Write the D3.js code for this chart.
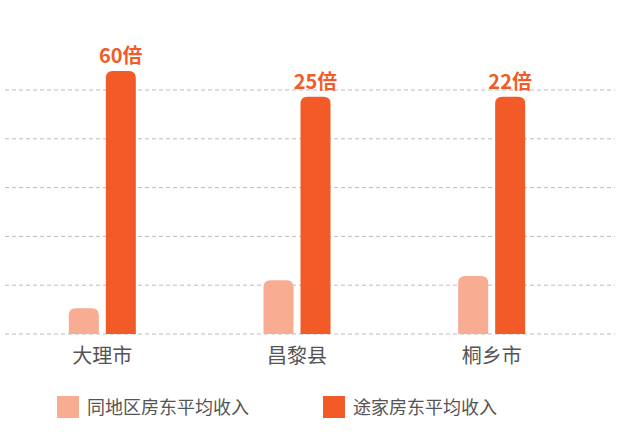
<!DOCTYPE html>
<html><head><meta charset="utf-8">
<script src="https://cdn.jsdelivr.net/npm/d3@7"></script>
<style>body{margin:0;background:#fff}text{font-family:"Noto Sans CJK SC","Noto Sans",sans-serif}</style>
</head><body><svg id="c" width="622" height="437"></svg>
<script>
const categories = ["大理市","昌黎县","桐乡市"];
const localIncome = [0.53, 1.1, 1.19];
const tujiaIncome = [5.39, 4.86, 4.86];
const multipleLabels = ["60倍","25倍","22倍"];
const seriesNames = ["同地区房东平均收入","途家房东平均收入"];
const gridTicks = [0,1,2,3,4,5];
const colors = ["#F8AC92","#F25B27"];

const svg = d3.select("#c");
const y = d3.scaleLinear().domain([0,5]).range([334,90]);
const x = d3.scaleBand().domain(categories).range([5,589]).paddingInner(0).paddingOuter(0);
const bw = 30, gap = 7;

svg.append("g").selectAll("line").data(gridTicks).join("line")
  .attr("x1",5).attr("x2",615).attr("y1",d=>y(d)).attr("y2",d=>y(d))
  .attr("stroke","#bbb").attr("stroke-dasharray","4,3").attr("stroke-width",1);

function topRounded(x0,y0,w,h,r){
  r=Math.min(r,h);
  return `M${x0},${y0+h}V${y0+r}Q${x0},${y0} ${x0+r},${y0}H${x0+w-r}Q${x0+w},${y0} ${x0+w},${y0+r}V${y0+h}Z`;
}
const cx = c => x(c)+x.bandwidth()/2;
[localIncome,tujiaIncome].forEach((arr,si)=>{
  svg.append("g").selectAll("path").data(categories).join("path")
    .attr("d",(c,i)=>{const x0 = cx(c) + (si===0 ? -gap/2-bw : gap/2);
      return topRounded(x0,y(arr[i]),bw,y(0)-y(arr[i]),7);})
    .attr("fill",colors[si]);
});
svg.append("g").selectAll("text").data(categories).join("text")
  .attr("x",c=>cx(c)+gap/2+bw/2).attr("y",(c,i)=>y(tujiaIncome[i])-8)
  .attr("text-anchor","middle").attr("font-size",20).attr("font-weight","bold")
  .attr("fill",colors[1]).text((c,i)=>multipleLabels[i]);
svg.append("g").selectAll("text").data(categories).join("text")
  .attr("x",c=>cx(c)).attr("y",363).attr("text-anchor","middle")
  .attr("font-size",20).attr("fill","#555").text(c=>c);
const lx=[57,323];
seriesNames.forEach((n,i)=>{
  svg.append("rect").attr("x",lx[i]).attr("y",396).attr("width",22).attr("height",22).attr("fill",colors[i]);
  svg.append("text").attr("x",lx[i]+30).attr("y",414).attr("font-size",18).attr("fill","#555").text(n);
});
</script></body></html>
